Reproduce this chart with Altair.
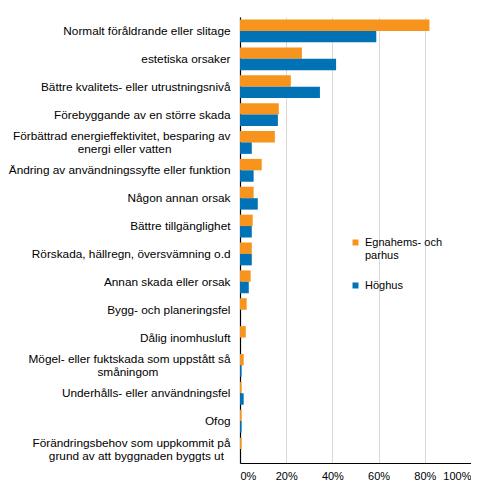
import json
import pandas as pd
import altair as alt

# Data (percent of renovations)
categories = [
    "Normalt föråldrande eller slitage",
    "estetiska orsaker",
    "Bättre kvalitets- eller utrustningsnivå",
    "Förebyggande av en större skada",
    "Förbättrad energieffektivitet, besparing av\nenergi eller vatten",
    "Ändring av användningssyfte eller funktion",
    "Någon annan orsak",
    "Bättre tillgänglighet",
    "Rörskada, hällregn, översvämning o.d",
    "Annan skada eller orsak",
    "Bygg- och planeringsfel",
    "Dålig inomhusluft",
    "Mögel- eller fuktskada som uppstått så\nsmåningom",
    "Underhålls- eller användningsfel",
    "Ofog",
    "Förändringsbehov som uppkommit på\ngrund av att byggnaden byggts ut",
]
series = ["Egnahems- och parhus", "Höghus"]
egnahem = [82.0, 26.8, 22.0, 16.8, 15.1, 9.4, 5.9, 5.5, 5.1, 4.6, 2.9, 2.5, 1.6, 0.7, 0.7, 0.7]
hoghus = [59.0, 41.6, 34.6, 16.4, 5.1, 5.9, 7.7, 5.1, 5.1, 3.8, 0.0, 0.0, 0.7, 1.6, 0.7, 0.0]
colors = ["#F7941D", "#0072B5"]
x_ticks = [0, 20, 40, 60, 80, 100]

df = pd.concat([
    pd.DataFrame({"Orsak": categories, "Typ": series[0], "Andel": egnahem}),
    pd.DataFrame({"Orsak": categories, "Typ": series[1], "Andel": hoghus}),
])

FONT = "Liberation Sans"

# second line of wrapped labels is centred under the first one (as in Excel):
# trailing no-break spaces (kept from trim() by a zero-width space) push the
# right-aligned line towards the middle
nbsp_pad = [18, 22, 2]
cases = []
for cat, n in zip([c for c in categories if "\n" in c], nbsp_pad):
    first, second = cat.split("\n")
    cases.append(
        f"datum.label == {json.dumps(cat, ensure_ascii=False)} ? "
        f"[{json.dumps(first, ensure_ascii=False)}, "
        f"{json.dumps(second + chr(160) * n + chr(0x200B), ensure_ascii=False)}]"
    )
y_label_expr = " : ".join(cases) + " : datum.label"

y_axis = alt.Axis(labelExpr=y_label_expr,
                  labelFontSize=11.8, labelColor="#000",
                  labelLineHeight=13,
                  labelPadding=10, labelLimit=300,
                  ticks=False, domainColor="#000",
                  domainWidth=1.2, labelFont=FONT)
# two-line labels are shifted up so the block is centred on the band
y_axis["labelOffset"] = {
    "condition": {"test": "indexof(datum.label, '\\n') >= 0", "value": -6.5},
    "value": 0,
}

chart = (
    alt.Chart(df)
    .mark_bar()
    .encode(
        y=alt.Y("Orsak:N", sort=categories, title=None,
                scale=alt.Scale(paddingInner=0.18, paddingOuter=0.09),
                axis=y_axis),
        yOffset=alt.YOffset("Typ:N", sort=series,
                            scale=alt.Scale(paddingInner=0, paddingOuter=0)),
        x=alt.X("Andel:Q", title=None,
                scale=alt.Scale(domain=[0, 100], nice=False),
                axis=alt.Axis(values=x_ticks, labelExpr="datum.value + '%'",
                              labelFontSize=11, labelColor="#000",
                              labelFont=FONT, ticks=False, labelPadding=7,
                              domainColor="#000", domainWidth=1.2,
                              gridColor="#d9d9d9", gridWidth=1)),
        color=alt.Color("Typ:N", sort=series,
                        scale=alt.Scale(domain=series, range=colors),
                        legend=alt.Legend(
                            title=None, orient="none",
                            legendX=110, legendY=220,
                            symbolType="square", symbolSize=36,
                            symbolStrokeWidth=0,
                            labelFontSize=11, labelFont=FONT,
                            labelColor="#000", labelLimit=200,
                            labelExpr="datum.label == 'Egnahems- och parhus' ? ['Egnahems- och', 'parhus'] : datum.label",
                            rowPadding=18, padding=0)),
    )
    .properties(width=231, height=446,
                padding={"left": 0, "top": 9, "right": 0, "bottom": 0})
    .configure_view(strokeWidth=0)
)

chart.save("out.html", embed_options={"renderer": "svg", "actions": False})
